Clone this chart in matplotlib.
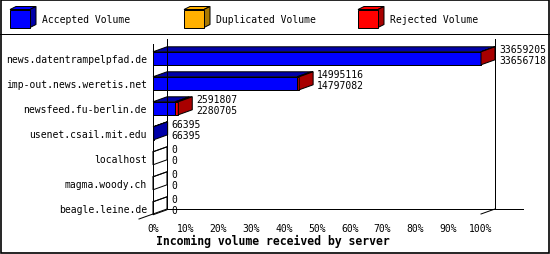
import numpy as np
import matplotlib.pyplot as plt
from matplotlib.patches import Rectangle, Polygon

plt.rcParams['font.family'] = ['DejaVu Sans Mono']

# data
servers = ['news.datentrampelpfad.de', 'imp-out.news.weretis.net', 'newsfeed.fu-berlin.de',
           'usenet.csail.mit.edu', 'localhost', 'magma.woody.ch', 'beagle.leine.de']
total = np.array([33659205, 14995116, 2591807, 66395, 0, 0, 0])
accepted = np.array([33656718, 14797082, 2280705, 66395, 0, 0, 0])
duplicated = np.array([0, 0, 0, 0, 0, 0, 0])
rejected = total - accepted - duplicated
series_names = ['Accepted Volume', 'Duplicated Volume', 'Rejected Volume']
ticks = list(range(0, 101, 10))

front_col = ['#0000ff', '#ffb000', '#ff0000']
dark_col = ['#0000a8', '#a87800', '#a80000']

# 3d depth in data units (14px x, 5px y)
DX = 14 / 328 * 100
DY = 0.2
H = 0.52
LW = 0.72

fig = plt.figure(figsize=(5.5, 2.55), dpi=100)
ax = fig.add_axes([153 / 550, 40 / 255, 328 / 550, 170 / 255])
ax.set_xlim(0, 100)
ymax, ymin = 6.228, -0.572
ax.set_ylim(ymax, ymin)
for s in ax.spines.values():
    s.set_visible(False)

# walls / floor
kw = dict(color='black', lw=LW, clip_on=False)
ax.plot([0, 0], [ymin, ymax], **kw)
ax.plot([DX, DX], [ymin - DY, ymax - DY], **kw)
ax.plot([100 + DX, 100 + DX], [ymin - DY, ymax - DY], **kw)
ax.plot([DX, 112.8], [ymax - DY, ymax - DY], **kw)
ax.plot([-DX, DX], [ymax + DY, ymax - DY], **kw)
ax.plot([100, 100 + DX], [ymax, ymax - DY], **kw)

maxv = total.max()
segs = np.vstack([accepted, duplicated, rejected]) / maxv * 100

for i in range(len(servers)):
    top = i - H / 2
    bot = i + H / 2
    start = 0.0
    last = None
    for k in range(3):
        w = segs[k, i]
        if w > 0:
            ax.add_patch(Rectangle((start, top), w, H, facecolor=front_col[k],
                                   edgecolor='black', lw=LW, clip_on=False))
            ax.add_patch(Polygon([(start, top), (start + w, top), (start + w + DX, top - DY),
                                  (start + DX, top - DY)], closed=True,
                                 facecolor=dark_col[k], edgecolor='black', lw=LW, clip_on=False))
            last = k
        start += w
    end = start
    side = dark_col[last] if last is not None else 'white'
    if last is None:
        ax.plot([0, DX], [top, top - DY], **kw)
    ax.add_patch(Polygon([(end, top), (end + DX, top - DY), (end + DX, bot - DY), (end, bot)],
                         closed=True, facecolor=side, edgecolor='black', lw=LW, clip_on=False))
    ax.annotate(str(total[i]), xy=(end + DX, i), xytext=(4, 9.5), textcoords='offset pixels',
                va='center', ha='left', fontsize=7, annotation_clip=False)
    ax.annotate(str(accepted[i]), xy=(end + DX, i), xytext=(4, -1.5), textcoords='offset pixels',
                va='center', ha='left', fontsize=7, annotation_clip=False)

ax.set_yticks(range(len(servers)), servers, fontsize=7)
ax.set_xticks(ticks, [f'{t}%' for t in ticks], fontsize=7)
ax.tick_params(axis='both', length=0)
ax.tick_params(axis='y', pad=4.5)
ax.tick_params(axis='x', pad=6.5)
ax.set_facecolor('none')

fig.text(156 / 550, 1 - 241 / 255, 'Incoming volume received by server', fontsize=8.3,
         fontweight='bold', va='center', ha='left')

# legend
lax = fig.add_axes([0, 1 - 35 / 255, 1, 35 / 255])
lax.set_xlim(0, 550)
lax.set_ylim(35, 0)
lax.axis('off')
lax.plot([0, 550], [34.5, 34.5], color='black', lw=LW, clip_on=False)
for k, (name, x0) in enumerate(zip(series_names, [10, 184, 358])):
    lax.add_patch(Polygon([(x0, 10.5), (x0 + 20, 10.5), (x0 + 26, 7.5), (x0 + 6, 7.5)],
                          closed=True, facecolor=front_col[k], edgecolor='black', lw=LW))
    lax.add_patch(Polygon([(x0 + 20, 10.5), (x0 + 26, 7.5), (x0 + 26, 25.5), (x0 + 20, 28.5)],
                          closed=True, facecolor=dark_col[k], edgecolor='black', lw=LW))
    lax.add_patch(Rectangle((x0, 10.5), 20, 18, facecolor=front_col[k], edgecolor='black', lw=LW))
    lax.text(x0 + 32, 20, name, fontsize=7, va='center', ha='left')

fig.patches.append(Rectangle((0.001, 0.002), 0.998, 0.996, transform=fig.transFigure,
                             fill=False, edgecolor='black', lw=1.2))

fig.savefig('out.png', dpi=100)
